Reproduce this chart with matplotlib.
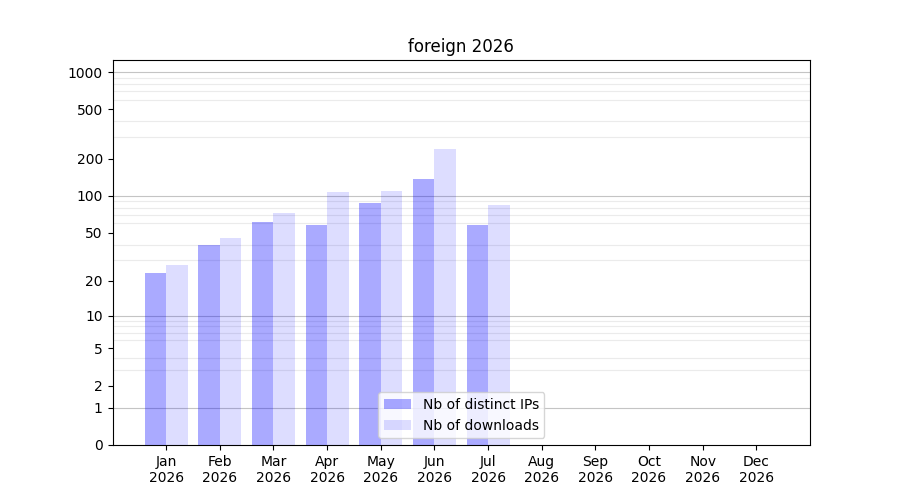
import numpy as np
import matplotlib
matplotlib.use('Agg')
import matplotlib.pyplot as plt
from matplotlib.ticker import FixedLocator, NullFormatter

months = ['Jan', 'Feb', 'Mar', 'Apr', 'May', 'Jun', 'Jul', 'Aug', 'Sep', 'Oct', 'Nov', 'Dec']
year = 2026
distinct_ips = [23, 40, 61, 58, 87, 136, 58, 0, 0, 0, 0, 0]
downloads = [27, 45, 72, 107, 109, 238, 85, 0, 0, 0, 0, 0]
ytick_values = [0, 1, 2, 5, 10, 20, 50, 100, 200, 500, 1000]


def forward(y):
    return np.log10(1 + np.asarray(y, dtype=float))


def inverse(y):
    return 10 ** np.asarray(y, dtype=float) - 1


fig, ax = plt.subplots(figsize=(9, 5), dpi=100)
x = np.arange(len(months))
w = 0.4
ax.bar(x - w / 2, distinct_ips, width=w, color=(0, 0, 1, 0.333), label='Nb of distinct IPs', zorder=3)
ax.bar(x + w / 2, downloads, width=w, color=(0, 0, 1, 0.133), label='Nb of downloads', zorder=3)

ax.set_yscale('function', functions=(forward, inverse))
ax.set_ylim(0, 1250)
ax.set_xlim(-1, 12)

ax.yaxis.set_major_locator(FixedLocator(ytick_values))
ax.set_yticklabels([str(v) for v in ytick_values])
minor = [m * 10 ** k for k in range(0, 4) for m in range(1, 10) if m * 10 ** k <= 1250]
ax.yaxis.set_minor_locator(FixedLocator(minor))
ax.yaxis.set_minor_formatter(NullFormatter())
ax.yaxis.set_tick_params(which='minor', left=False, length=0)
ax.grid(True, which='minor', axis='y', color='#ebebeb', linewidth=0.8, zorder=1)
for d in [1, 10, 100, 1000]:
    ax.axhline(d, color='#c4c4c4', linewidth=0.8, zorder=2)

ax.set_xticks(x)
ax.set_xticklabels([f'{m}\n{year}' for m in months])
ax.set_title(f'foreign {year}')
ax.legend(loc='lower center')

plt.savefig('out.png')
